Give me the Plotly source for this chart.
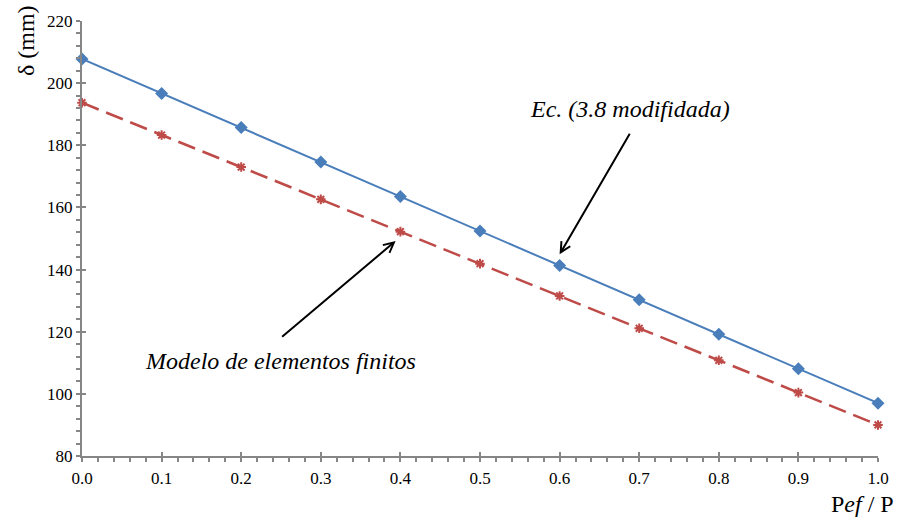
import plotly.graph_objects as go

# Load ratio Pef/P and deflection δ (mm)
ratio = [0.0, 0.1, 0.2, 0.3, 0.4, 0.5, 0.6, 0.7, 0.8, 0.9, 1.0]
delta_ec = [207.8, 196.7, 185.7, 174.6, 163.5, 152.4, 141.3, 130.3, 119.2, 108.1, 97.0]
delta_fem = [193.7, 183.3, 173.0, 162.6, 152.2, 141.9, 131.5, 121.1, 110.8, 100.4, 90.0]

y_ticks = [80, 100, 120, 140, 160, 180, 200, 220]
x_ticks = [0.0, 0.1, 0.2, 0.3, 0.4, 0.5, 0.6, 0.7, 0.8, 0.9, 1.0]

FONT = "Liberation Serif"
AXIS_GREY = "#868686"
BLUE = "#4a7ebb"
RED = "#be4b48"

fig = go.Figure()

fig.add_trace(go.Scatter(
    x=ratio, y=delta_ec, mode="lines+markers", name="Ec. (3.8 modifidada)",
    line=dict(color=BLUE, width=2),
    marker=dict(symbol="diamond", size=10, color=BLUE),
    cliponaxis=False,
))
fig.add_trace(go.Scatter(
    x=ratio, y=delta_fem, mode="lines+markers", name="Modelo de elementos finitos",
    line=dict(color=RED, width=2.5, dash="18px,8px"),
    marker=dict(symbol="asterisk-open", size=8, color=RED, line=dict(color=RED, width=2)),
    cliponaxis=False,
))

axis_common = dict(
    showgrid=False, zeroline=False,
    showline=True, linecolor=AXIS_GREY, linewidth=2,
    ticks="outside", ticklen=4, tickwidth=2, tickcolor=AXIS_GREY,
    tickfont=dict(family=FONT, size=17, color="black"),
)

fig.update_layout(
    width=901, height=519,
    margin=dict(l=82, r=19, t=15, b=63),
    paper_bgcolor="white", plot_bgcolor="white",
    showlegend=False,
    font=dict(family=FONT, color="black"),
    xaxis=dict(
        range=[0, 1], tickvals=x_ticks, tickformat=".1f",
        minor=dict(dtick=0.02, ticks="outside", ticklen=4, tickwidth=1.5, tickcolor=AXIS_GREY),
        ticklabelstandoff=2,
        **axis_common,
    ),
    yaxis=dict(
        range=[80, 220], tickvals=y_ticks,
        ticksuffix="\u00a0\u00a0\u00a0\u00a0",
        minor=dict(dtick=4, ticks="outside", ticklen=4, tickwidth=1.5, tickcolor=AXIS_GREY),
        **axis_common,
    ),
    # inner halves of the major ticks so they cross the axis lines
    xaxis2=dict(overlaying="x", matches="x", range=[0, 1], tickvals=x_ticks,
                ticks="inside", ticklen=4, tickwidth=2, tickcolor=AXIS_GREY,
                showticklabels=False, showline=False, showgrid=False, zeroline=False),
    yaxis2=dict(overlaying="y", matches="y", range=[80, 220], tickvals=y_ticks,
                ticks="inside", ticklen=4, tickwidth=2, tickcolor=AXIS_GREY,
                showticklabels=False, showline=False, showgrid=False, zeroline=False),
)

# invisible trace to activate the overlay axes
fig.add_trace(go.Scatter(x=[0, 1], y=[80, 220], xaxis="x2", yaxis="y2",
                         mode="markers", marker=dict(opacity=0), hoverinfo="skip",
                         showlegend=False))

fig.add_annotation(
    text="δ (mm)", textangle=-90, xref="paper", yref="paper",
    x=-0.071, y=0.955, xanchor="center", yanchor="middle", showarrow=False,
    font=dict(family=FONT, size=24, color="black"),
)
fig.add_annotation(
    text="P<i>ef</i> / P", xref="paper", yref="paper",
    x=1.0225, y=-0.111, xanchor="right", yanchor="middle", showarrow=False,
    font=dict(family=FONT, size=24, color="black"),
)

# callout labels
fig.add_annotation(
    text="<i>Ec. (3.8 modifidada)</i>", xref="paper", yref="paper",
    x=0.689, y=0.798, xanchor="center", yanchor="middle", showarrow=False,
    font=dict(family=FONT, size=24, color="black"),
)
fig.add_annotation(
    text="<i>Modelo de elementos finitos</i>", xref="paper", yref="paper",
    x=0.249, y=0.218, xanchor="center", yanchor="middle", showarrow=False,
    font=dict(family=FONT, size=24, color="black"),
)

# callout arrows pointing at the two series
fig.add_annotation(
    text="", x=ratio[6], y=delta_ec[6] + 3.6, xref="x", yref="y",
    ax=71, ay=-122, showarrow=True, arrowhead=5, arrowsize=1, arrowwidth=2,
    arrowcolor="black", standoff=0,
)
fig.add_annotation(
    text="", x=ratio[4] - 0.006, y=delta_fem[4] - 3, xref="x", yref="y",
    ax=-115, ay=97, showarrow=True, arrowhead=5, arrowsize=1, arrowwidth=2,
    arrowcolor="black", standoff=0,
)

fig.write_html("out.html")
